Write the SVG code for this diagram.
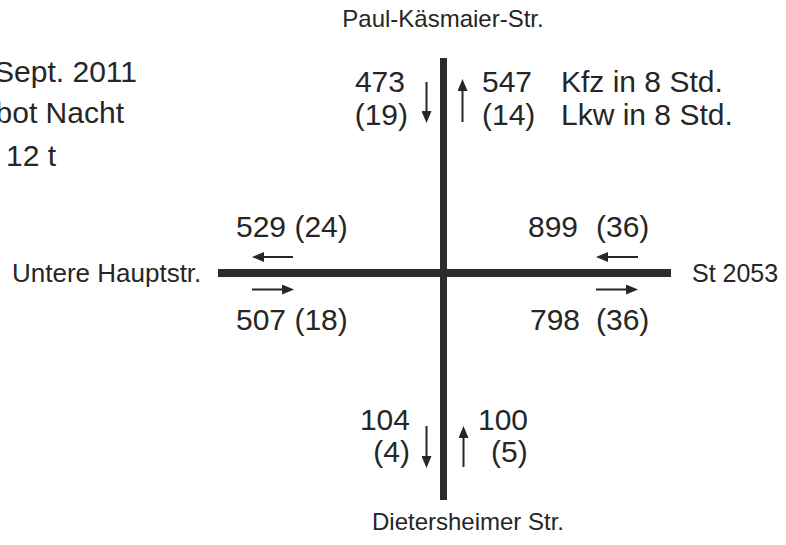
<svg xmlns="http://www.w3.org/2000/svg" width="786" height="545" viewBox="0 0 786 545">
<defs>
<style>
.t{font-family:"Liberation Sans",Arial,sans-serif;fill:#262626}
.n{font-size:30px}
.r{font-size:24px}
.road{stroke:#2b2b2b;fill:none}
.ar{stroke:#262626;stroke-width:2;fill:none;marker-end:url(#ah)}
</style>
<marker id="ah" viewBox="0 0 12 10" refX="6" refY="5" markerWidth="12" markerHeight="10" markerUnits="userSpaceOnUse" orient="auto">
<path d="M0,0 L12,5 L0,10 z" fill="#262626"/>
</marker>
</defs>
<g id="roads">
<line class="road" x1="443.5" y1="58" x2="443.5" y2="500" stroke-width="7"/>
<line class="road" x1="218" y1="273" x2="671" y2="273" stroke-width="8"/>
</g>
<g id="connectors">
<line class="ar" x1="426.5" y1="82" x2="426.5" y2="117"/>
<line class="ar" x1="462.5" y1="122" x2="462.5" y2="85"/>
<line class="ar" x1="293" y1="257" x2="258" y2="257"/>
<line class="ar" x1="638" y1="257" x2="602" y2="257"/>
<line class="ar" x1="252" y1="289.5" x2="288" y2="289.5"/>
<line class="ar" x1="596" y1="289.5" x2="632" y2="289.5"/>
<line class="ar" x1="426.5" y1="426" x2="426.5" y2="462"/>
<line class="ar" x1="463.5" y1="467" x2="463.5" y2="432"/>
</g>
<g id="legend-left">
<text class="t n" x="137" y="82" text-anchor="end">Sept. 2011</text>
<text class="t n" x="124" y="123" text-anchor="end">bot Nacht</text>
<text class="t n" x="56" y="166" text-anchor="end">12 t</text>
</g>
<g id="road-north">
<text class="t r" x="443" y="27" text-anchor="middle">Paul-Käsmaier-Str.</text>
<text class="t n" x="405" y="92" text-anchor="end">473</text>
<text class="t n" x="408" y="125" text-anchor="end">(19)</text>
<text class="t n" x="482" y="92">547</text>
<text class="t n" x="482" y="125">(14)</text>
<text class="t n" x="561" y="92">Kfz in 8 Std.</text>
<text class="t n" x="561" y="125">Lkw in 8 Std.</text>
</g>
<g id="road-west">
<text class="t" x="12" y="282" font-size="26">Untere Hauptstr.</text>
<text class="t n" x="236" y="237">529 (24)</text>
<text class="t n" x="236" y="330">507 (18)</text>
</g>
<g id="road-east">
<text class="t" x="692" y="282" font-size="25">St 2053</text>
<text class="t n" x="528" y="237">899</text>
<text class="t n" x="596" y="237">(36)</text>
<text class="t n" x="530" y="330">798</text>
<text class="t n" x="596" y="330">(36)</text>
</g>
<g id="road-south">
<text class="t r" x="468" y="530" text-anchor="middle">Dietersheimer Str.</text>
<text class="t n" x="410" y="430" text-anchor="end">104</text>
<text class="t n" x="410" y="462" text-anchor="end">(4)</text>
<text class="t n" x="478" y="430">100</text>
<text class="t n" x="491" y="462">(5)</text>
</g>
</svg>
